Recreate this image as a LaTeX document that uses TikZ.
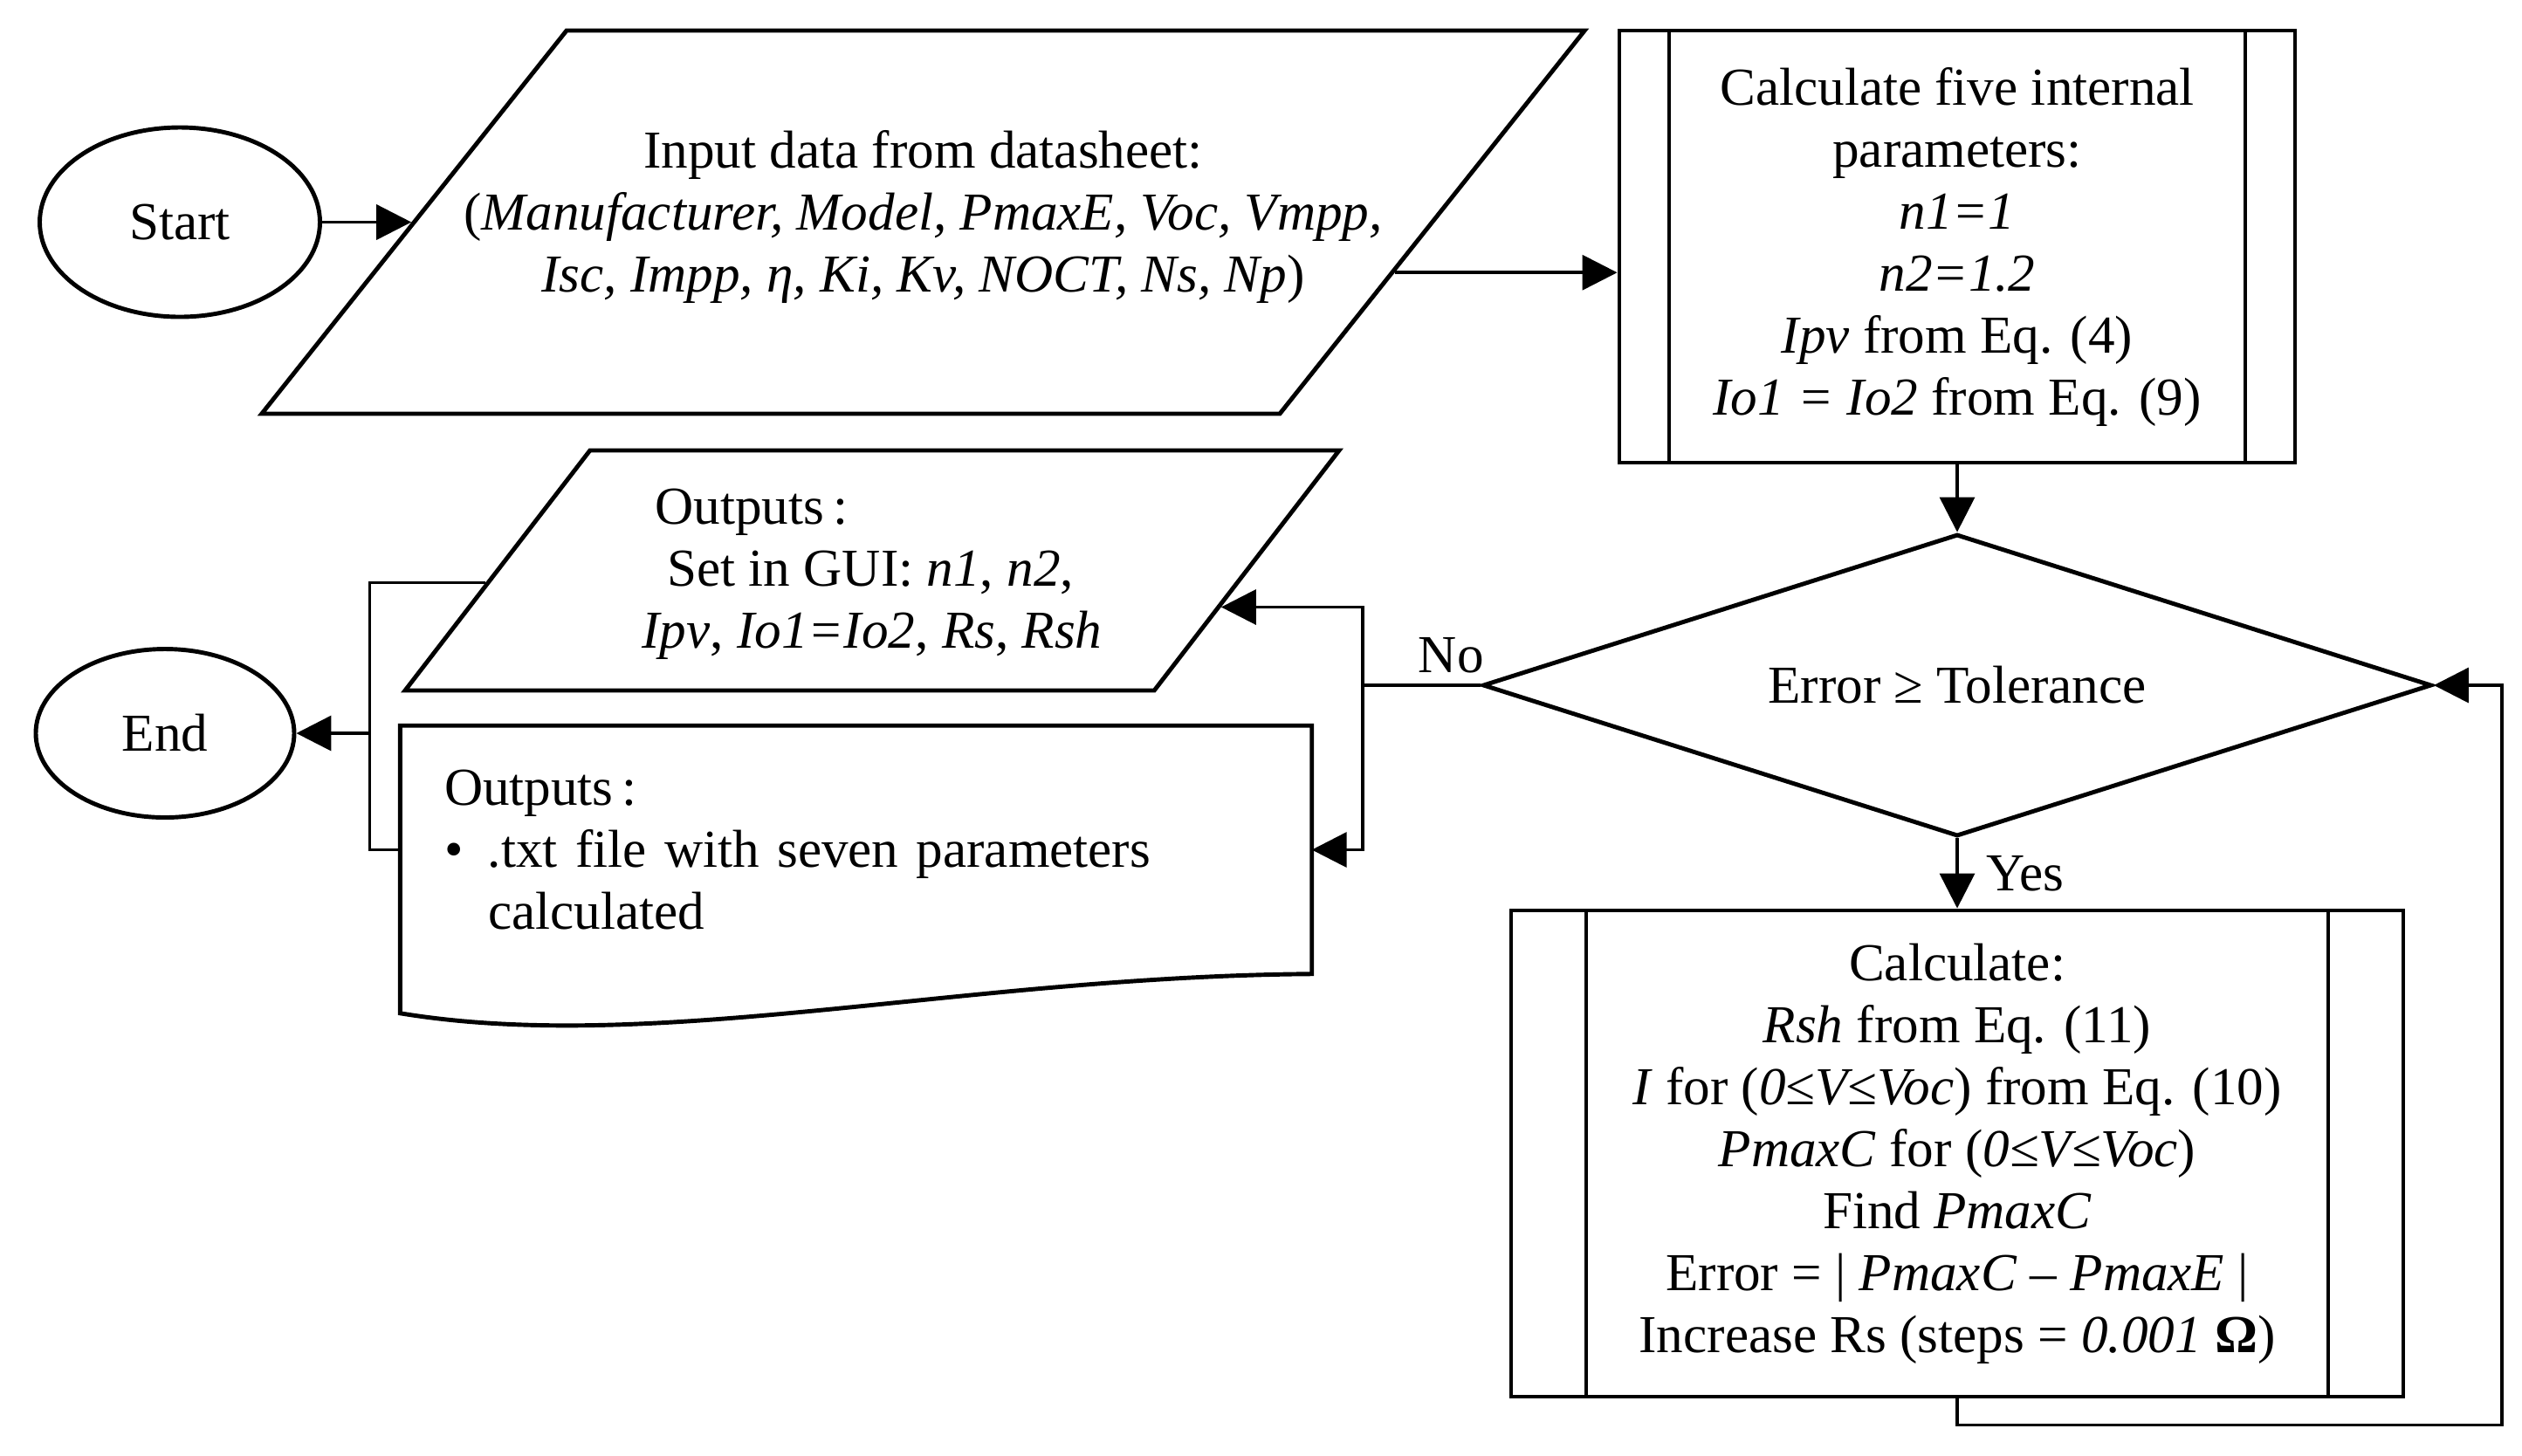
\documentclass[tikz,border=0pt]{standalone}
\usepackage{fontspec}
\setmainfont{Liberation Serif}
\usepackage{tikz}
\usetikzlibrary{arrows.meta,shapes.geometric,calc}
\newcommand{\figfont}{\fontsize{17.4}{20.2}\selectfont}
\tikzset{
  term/.style={draw, ellipse, line width=1.4pt, inner sep=0pt},
  io/.style={draw, trapezium, line width=1.4pt},
  subproc/.style={draw, rectangle, line width=1.4pt, align=center, inner sep=0pt,
    path picture={\draw[line width=1.1pt]
      ([xshift=#1]path picture bounding box.north west) -- ([xshift=#1]path picture bounding box.south west)
      ([xshift=-#1]path picture bounding box.north east) -- ([xshift=-#1]path picture bounding box.south east);}},
  test/.style={draw, diamond, aspect=3, line width=1.4pt, inner sep=0pt},
  link/.style={line width=1pt},
  flow/.style={link, -{Triangle[length=4mm, width=4mm]}},
  brace/.style={line width=0.6pt},
}

\begin{document}
\begin{tikzpicture}[font=\figfont]
  \useasboundingbox (0,0) rectangle (28.89,-16.67);
  \node[term, minimum width=3.21cm, minimum height=2.17cm] (start) at (2.06,-2.545) {Start};
  \node[io, trapezium left angle=51.5, trapezium right angle=128.5,
        inner xsep=4.085cm, inner ysep=2.195cm,
        label={[align=center, yshift=0.6mm, name=inputtext]center:Input data from datasheet:\\
          (\textit{Manufacturer, Model, PmaxE, Voc, Vmpp,}\\
          \textit{Isc, Impp, η, Ki, Kv, NOCT, Ns, Np})}] (input) at (10.575,-2.545) {};
  \node[subproc=5.7mm, minimum width=7.74cm, minimum height=4.95cm] (calc1) at (22.42,-2.825)
    {Calculate five internal\\ parameters:\\ \textit{n1=1}\\ \textit{n2=1.2}\\
     \textit{Ipv} from Eq. (4)\\ \textit{Io1 = Io2} from Eq. (9)};
  \node[test, minimum width=10.87cm, minimum height=3.46cm] (check) at (22.42,-7.85)
    {Error ≥ Tolerance};
  \node[subproc=8.6mm, minimum width=10.22cm, minimum height=5.57cm] (calc2) at (22.42,-13.215)
    {Calculate:\\ \textit{Rsh} from Eq. (11)\\ \textit{I} for (\textit{0≤V≤Voc}) from Eq. (10)\\
     \textit{PmaxC} for (\textit{0≤V≤Voc})\\ Find \textit{PmaxC}\\
     Error = | \textit{PmaxC} – \textit{PmaxE} |\\ Increase Rs (steps = \textit{0.001} \textbf{Ω})};
  \node[io, trapezium left angle=52.4, trapezium right angle=127.6,
        inner xsep=3.232cm, inner ysep=1.375cm,
        label={[align=left, yshift=-0.4mm, name=guitext]center:\hspace*{0.15cm}Outputs\,:\\
          \hspace*{0.29cm}Set in GUI: \textit{n1}, \textit{n2},\\
          \textit{Ipv}, \textit{Io1=Io2}, \textit{Rs}, \textit{Rsh}}] (outgui) at (9.99,-6.535) {};
  \node[minimum width=10.43cm, minimum height=2.67cm, text width=9.43cm, inner sep=5mm,
        align=left] (outfile) at (9.805,-9.735)
    {Outputs\,:\\ \makebox[0.5cm][l]{\textbullet}.txt file with seven parameters\\
     \hspace*{0.5cm}calculated};
  \node[term, minimum width=2.96cm, minimum height=1.93cm] (stop) at (1.89,-8.40) {End};

  % document outline with wavy bottom
  \draw[line width=1.4pt] (outfile.north west) -- (outfile.north east) -- (outfile.south east)
    .. controls ($(outfile.south east)+(-4.02,-0.03)$) and ($(outfile.south west)+(2.91,-0.93)$)
    .. ([yshift=-4.5mm]outfile.south west) -- cycle;

  \coordinate (q1) at ($(input.bottom right corner)!0.37!(input.top right corner)$);
  \coordinate (q2) at ($(outgui.bottom right corner)!0.35!(outgui.top right corner)$);
  \coordinate (q3) at ($(outgui.bottom left corner)!0.45!(outgui.top left corner)$);
  \coordinate (split) at ([xshift=-1.35cm]check.west);
  \coordinate (join) at ([xshift=8.4mm]stop.east);

  \draw[flow] (start) -- (input);
  \draw[flow] (q1) -- (q1 -| calc1.west);
  \draw[flow] (calc1) -- (check);
  \draw[flow] (check) -- node[right=2mm] {Yes} (calc2);
  \draw[flow] (calc2.south) -- ++(0,-0.3) -| ([xshift=7.8mm]check.east) -- (check.east);
  \draw[link] (check.west) -- node[pos=0.25, above] {No} (split);
  \draw[flow] (split) |- (q2);
  \draw[flow] (split) |- (outfile.east);
  \draw[brace] (q3) -| (join |- outfile.west) -- (outfile.west);
  \draw[flow] (join) -- (stop);
\end{tikzpicture}
\end{document}
